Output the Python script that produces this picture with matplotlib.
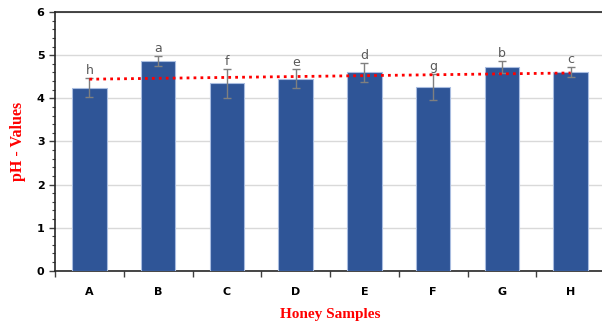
import matplotlib.pyplot as plt
import numpy as np
from matplotlib.ticker import MultipleLocator

samples = ["A", "B", "C", "D", "E", "F", "G", "H"]
ph_values = [4.25, 4.87, 4.35, 4.45, 4.60, 4.27, 4.73, 4.61]
ph_errors = [0.22, 0.11, 0.34, 0.22, 0.23, 0.30, 0.14, 0.12]
letters = ["h", "a", "f", "e", "d", "g", "b", "c"]

fig = plt.figure(figsize=(6.02, 3.24), dpi=100)
ax = fig.add_axes([0.0914, 0.1645, 0.9136, 0.798])

x = np.arange(len(samples))
ax.bar(x, ph_values, width=0.5, color="#2f5597", edgecolor="#a9bde0",
       linewidth=0.8, zorder=3)
ax.errorbar(x, ph_values, yerr=ph_errors, fmt="none", ecolor="#7f7f7f",
            elinewidth=1, capsize=3, capthick=1, zorder=4)

for xi, v, e, lab in zip(x, ph_values, ph_errors, letters):
    ax.text(xi, v + e + 0.02, lab, ha="center", va="bottom", fontsize=9,
            color="#595959", zorder=5)

# linear trend line
k, b = np.polyfit(x, ph_values, 1)
ax.plot([x[0], x[-1]], [k * x[0] + b, k * x[-1] + b], color="red",
        linestyle=(0, (1, 1.5)), linewidth=2, zorder=6)

ax.set_xlim(-0.5, len(samples) - 0.5)
ax.set_ylim(0, 6)
ax.yaxis.set_major_locator(MultipleLocator(1))
ax.yaxis.set_minor_locator(MultipleLocator(0.2))
ax.grid(axis="y", color="#d9d9d9", linewidth=1, zorder=0)

ax.set_xticks(x)
ax.set_xticklabels(samples, fontsize=8, fontweight="bold")
ax.set_xticks(np.arange(len(samples)) - 0.5, minor=True)
ax.tick_params(axis="x", which="major", length=0, pad=12)
ax.tick_params(axis="x", which="minor", length=4, width=1, color="#404040")
ax.tick_params(axis="y", which="major", length=4, width=1, labelsize=8,
               color="#404040")
ax.tick_params(axis="y", which="minor", length=2.5, width=0.8, color="#404040")
for t in ax.get_yticklabels():
    t.set_fontweight("bold")

ax.spines["right"].set_visible(False)
for s in ["left", "bottom", "top"]:
    ax.spines[s].set_color("#262626")
    ax.spines[s].set_linewidth(1.2)

ax.set_xlabel("Honey Samples", fontsize=11, fontweight="bold", color="red",
              family="Liberation Serif", labelpad=8)
ax.set_ylabel("pH - Values", fontsize=11.5, fontweight="bold", color="red",
              family="Liberation Serif", labelpad=8)

fig.savefig("out.png", dpi=100)
